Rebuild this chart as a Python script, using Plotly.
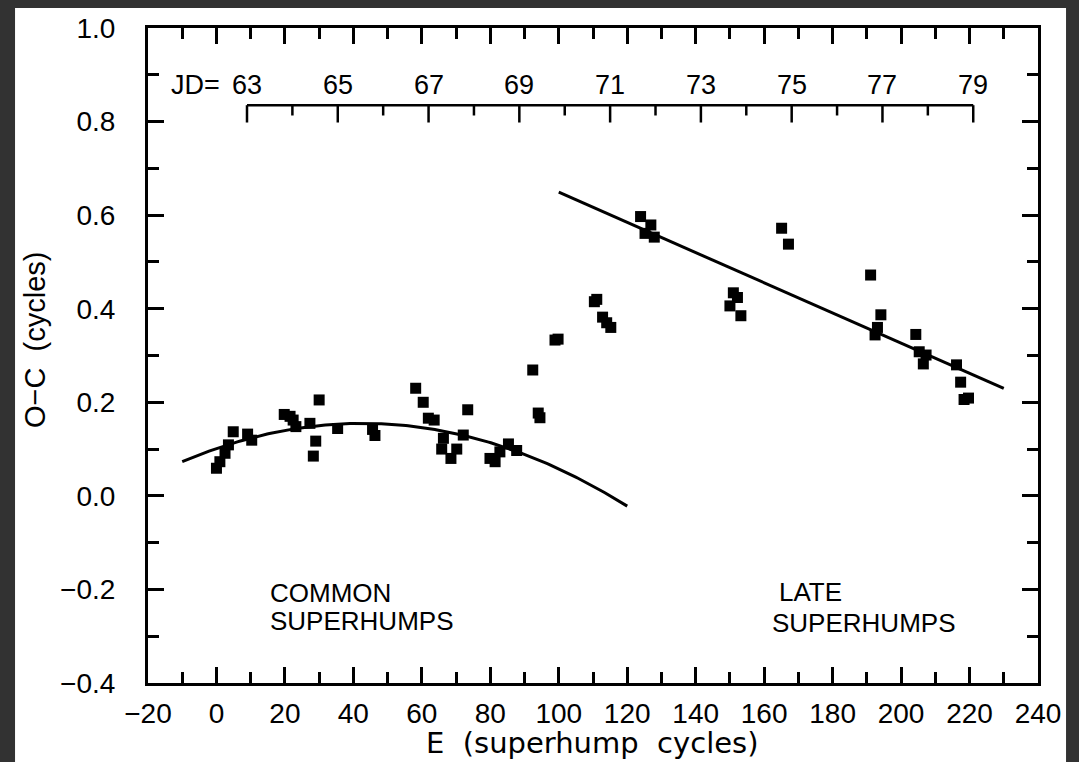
import numpy as np
import plotly.graph_objects as go

# Superhump timings: cycle number E and O-C residual (cycles)
common_E = [0.0, 1.0, 2.5, 3.5, 4.9, 9.1, 10.3, 19.8, 21.5, 22.4, 23.2, 27.3, 28.3,
            29.0, 30.0, 35.4, 45.6, 46.3, 58.2, 60.4, 61.9, 63.6, 65.8, 66.3, 68.5,
            70.2, 72.1, 73.4, 79.9, 81.4, 82.8, 85.3, 87.7]
common_OC = [0.059, 0.073, 0.091, 0.109, 0.137, 0.132, 0.119, 0.174, 0.170, 0.162,
             0.148, 0.155, 0.085, 0.117, 0.205, 0.144, 0.142, 0.129, 0.230, 0.200,
             0.166, 0.162, 0.100, 0.123, 0.080, 0.100, 0.130, 0.184, 0.080, 0.073,
             0.094, 0.111, 0.097]

transition_E = [92.4, 94.0, 94.5, 98.9, 99.8, 110.4, 111.1, 112.8, 114.0, 115.2]
transition_OC = [0.269, 0.177, 0.167, 0.333, 0.335, 0.415, 0.420, 0.382, 0.370, 0.360]

late_E = [123.9, 125.2, 126.9, 127.9, 150.0, 151.0, 152.2, 153.2, 165.1, 167.1,
          191.1, 192.4, 193.1, 194.1, 204.3, 205.3, 206.5, 207.3, 216.2, 217.4,
          218.4, 219.7]
late_OC = [0.597, 0.561, 0.579, 0.553, 0.406, 0.434, 0.424, 0.385, 0.572, 0.538,
           0.472, 0.344, 0.360, 0.387, 0.345, 0.308, 0.282, 0.301, 0.280, 0.243,
           0.206, 0.209]

# Quadratic ephemeris for common superhumps: OC = peak - k (E - E_peak)^2
common_fit_peak = 0.155
common_fit_Epeak = 42.65
common_fit_k = 2.958e-5
common_fit_range = [-10, 120]

# Linear ephemeris for late superhumps: OC = oc100 + slope (E - 100)
late_fit_oc100 = 0.649
late_fit_slope = -0.003226
late_fit_range = [100, 230]

# Julian date scale (JD 2448xxx) above the data
jd_days = list(range(63, 80))
jd_labels = [63, 65, 67, 69, 71, 73, 75, 77, 79]
jd_E0 = 8.92          # cycle number at JD 63
jd_cycles_per_day = 13.26

x_ticks = list(range(-20, 241, 20))
y_ticks = [-0.4, -0.2, 0.0, 0.2, 0.4, 0.6, 0.8, 1.0]

FONT = "Liberation Sans, Arial, Helvetica, sans-serif"

fig = go.Figure()

all_E = common_E + transition_E + late_E
all_OC = common_OC + transition_OC + late_OC
fig.add_trace(go.Scatter(
    x=all_E, y=all_OC, mode="markers",
    marker=dict(symbol="square", size=11, color="black", line=dict(width=0)),
    showlegend=False, hoverinfo="skip"))

Ec = np.linspace(common_fit_range[0], common_fit_range[1], 200)
OCc = common_fit_peak - common_fit_k * (Ec - common_fit_Epeak) ** 2
fig.add_trace(go.Scatter(x=Ec, y=OCc, mode="lines",
                         line=dict(color="black", width=3), showlegend=False,
                         hoverinfo="skip"))

El = np.array(late_fit_range, dtype=float)
OCl = late_fit_oc100 + late_fit_slope * (El - 100)
fig.add_trace(go.Scatter(x=El, y=OCl, mode="lines",
                         line=dict(color="black", width=3), showlegend=False,
                         hoverinfo="skip"))

shapes = []
# page frame: dark surround with white sheet
shapes.append(dict(type="rect", xref="paper", yref="paper",
                   x0=-0.1494, x1=1.0315, y0=-0.2, y1=1.0305,
                   fillcolor="white", line=dict(width=0), layer="below"))

# JD bracket
jd_bar_y = 0.835
jd_E = [jd_E0 + (d - 63) * jd_cycles_per_day for d in jd_days]
shapes.append(dict(type="line", xref="x", yref="y",
                   x0=jd_E[0], x1=jd_E[-1], y0=jd_bar_y, y1=jd_bar_y,
                   line=dict(color="black", width=2.5)))
for d, e in zip(jd_days, jd_E):
    tick_len = 0.037 if d % 2 == 1 else 0.022
    shapes.append(dict(type="line", xref="x", yref="y",
                       x0=e, x1=e, y0=jd_bar_y, y1=jd_bar_y - tick_len,
                       line=dict(color="black", width=2.5)))

annotations = []
for d in jd_labels:
    e = jd_E0 + (d - 63) * jd_cycles_per_day
    annotations.append(dict(x=e, y=0.878, xref="x", yref="y", text=str(d),
                            showarrow=False, xanchor="center", yanchor="middle",
                            font=dict(family=FONT, size=27, color="black")))
annotations.append(dict(x=jd_E0 - 7.3, y=0.878, xref="x", yref="y", text="JD=",
                        showarrow=False, xanchor="right", yanchor="middle",
                        font=dict(family=FONT, size=27, color="black")))

label_font = dict(family=FONT, size=26, color="black")
annotations += [
    dict(x=15.1, y=-0.208, xref="x", yref="y", text="COMMON", showarrow=False,
         xanchor="left", yanchor="middle", font=label_font),
    dict(x=15.1, y=-0.267, xref="x", yref="y", text="SUPERHUMPS", showarrow=False,
         xanchor="left", yanchor="middle", font=label_font),
    dict(x=163.8, y=-0.206, xref="x", yref="y", text="LATE", showarrow=False,
         xanchor="left", yanchor="middle", font=label_font),
    dict(x=161.7, y=-0.271, xref="x", yref="y", text="SUPERHUMPS", showarrow=False,
         xanchor="left", yanchor="middle", font=label_font),
    # axis titles
    dict(x=0.499, y=-0.091, xref="paper", yref="paper",
         text="E  (superhump  cycles)", showarrow=False,
         xanchor="center", yanchor="middle",
         font=dict(family="DejaVu Sans, sans-serif", size=29, color="black")),
    dict(x=-0.127, y=0.5237, xref="paper", yref="paper",
         text="O\u2212C  (cycles)", showarrow=False, textangle=-90,
         xanchor="center", yanchor="middle",
         font=dict(family=FONT, size=29, color="black")),
]

axis_common = dict(showgrid=False, zeroline=False, showline=True, linecolor="black",
                   linewidth=3, mirror="ticks", ticks="inside", tickcolor="black",
                   tickwidth=2.5, ticklen=16,
                   tickfont=dict(family=FONT, size=28, color="black"))

fig.update_layout(
    width=1079, height=762,
    margin=dict(l=148, r=41, t=28, b=79),
    paper_bgcolor="#323232", plot_bgcolor="white",
    shapes=shapes, annotations=annotations,
    xaxis=dict(range=[-20, 240], tickvals=x_ticks, ticklabelstandoff=3,
               minor=dict(ticks="inside", ticklen=11, dtick=10, tickwidth=2.5,
                          tickcolor="black"),
               **axis_common),
    yaxis=dict(range=[-0.4, 1.0], tickvals=y_ticks, tickformat=".1f",
               ticklabelstandoff=24,
               minor=dict(ticks="inside", ticklen=11, dtick=0.1, tickwidth=2.5,
                          tickcolor="black"),
               **axis_common),
)

fig.write_html("out.html")
